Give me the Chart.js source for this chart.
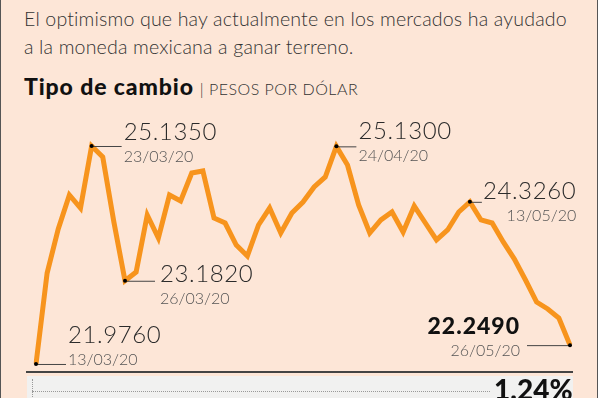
<!DOCTYPE html>
<html lang="es">
<head>
<meta charset="utf-8">
<title>Tipo de cambio</title>
<script src="https://cdn.jsdelivr.net/npm/chart.js@4.4.1/dist/chart.umd.min.js"></script>
<style>
  html, body { margin: 0; padding: 0; }
  body {
    width: 598px; height: 398px; overflow: hidden; position: relative;
    background: #fde6d7; font-family: Lato, 'Open Sans', sans-serif; color: #2b2b2b;
  }
  .frame { position: absolute; left: 0; top: 0; width: 596px; height: 398px;
           border-left: 1px solid #555; border-right: 1px solid #555; }
  .intro { position: absolute; left: 24px; top: 5px; font-size: 19.6px; line-height: 28px;
           font-weight: 300; color: #333; letter-spacing: 0.15px; }
  .title { position: absolute; left: 24px; top: 73px; font-size: 23px; line-height: 26px; }
  .title b { font-weight: 900; color: #111; letter-spacing: 0.9px; }
  .title span { font-size: 16px; font-weight: 300; color: #333; letter-spacing: 0.5px; }
  #wrap { position: absolute; left: 0; top: 0; width: 598px; height: 398px; }
  .ann { position: absolute; white-space: nowrap; line-height: 1; }
  .ann .num { font-size: 24px; font-weight: 300; color: #2b2b2b; letter-spacing: 0.6px; }
  .ann .num.bold { font-weight: 900; color: #111; font-size: 23px; letter-spacing: 1px; }
  .ann .date { font-size: 16px; font-weight: 300; color: #555; margin-top: 5px; }
  .rule { position: absolute; left: 26px; top: 371px; width: 547px; height: 0;
          border-top: 2px solid #444; }
  .box { position: absolute; left: 27px; top: 376px; width: 546px; height: 30px; background: #f1f1f0; }
  .dotv { position: absolute; left: 32px; top: 379px; height: 30px; border-left: 1px dotted #999; }
  .doth { position: absolute; left: 32px; top: 391px; width: 458px; border-top: 1px dotted #999; }
  .pct { position: absolute; left: 494px; top: 375px; font-size: 28px; font-weight: 900; color: #111; line-height: 1; }
</style>
</head>
<body>
<div class="frame"></div>
<div class="intro">El optimismo que hay actualmente en los mercados ha ayudado<br>a la moneda mexicana a ganar terreno.</div>
<div class="title"><b>Tipo de cambio</b> <span>| PESOS POR DÓLAR</span></div>

<div id="wrap"><canvas id="chart" width="598" height="398"></canvas></div>

<div class="rule"></div>
<div class="box"></div>
<div class="dotv"></div>
<div class="doth"></div>
<div class="pct">1.24%</div>

<script>
// ── Data ───────────────────────────────────────
const dates = [
  '13/03/20', '17/03/20', '18/03/20', '19/03/20', '20/03/20', '23/03/20', '24/03/20', '25/03/20',
  '26/03/20', '27/03/20', '30/03/20', '31/03/20', '01/04/20', '02/04/20', '03/04/20', '06/04/20',
  '07/04/20', '08/04/20', '13/04/20', '14/04/20', '15/04/20', '16/04/20', '17/04/20', '20/04/20',
  '21/04/20', '22/04/20', '23/04/20', '24/04/20', '27/04/20', '28/04/20', '29/04/20', '30/04/20',
  '04/05/20', '05/05/20', '06/05/20', '07/05/20', '08/05/20', '11/05/20', '12/05/20', '13/05/20',
  '14/05/20', '15/05/20', '18/05/20', '19/05/20', '20/05/20', '21/05/20', '22/05/20', '25/05/20',
  '26/05/20'
];

const pesos = [
  21.976, 23.294, 23.932, 24.425, 24.236, 25.135, 24.976, 24.034,
  23.182, 23.309, 24.135, 23.802, 24.425, 24.338, 24.744, 24.773,
  24.092, 24.019, 23.700, 23.541, 23.990, 24.236, 23.874, 24.164,
  24.323, 24.541, 24.686, 25.130, 24.860, 24.280, 23.874, 24.063,
  24.178, 23.889, 24.265, 24.019, 23.773, 23.918, 24.178, 24.326,
  24.063, 24.019, 23.744, 23.497, 23.193, 22.874, 22.773, 22.642,
  22.249
];

// labelled points: which date, and its printed value
const markDates  = ['13/03/20', '23/03/20', '26/03/20', '24/04/20', '13/05/20', '26/05/20'];
const markValues = ['21.9760', '25.1350', '23.1820', '25.1300', '24.3260', '22.2490'];

const yMin = 21.8886;
const yMax = 25.5118;

// ── Label placement (leader length, text offsets) ──
const markStyle = {
  '13/03/20': { lead: 30, dx: 32, dy: -42, align: 'left' },
  '23/03/20': { lead: 30, dx: 32, dy: -27, align: 'left' },
  '26/03/20': { lead: 30, dx: 35, dy: -20, align: 'left' },
  '24/04/20': { lead: 20, dx: 22, dy: -28, align: 'left' },
  '13/05/20': { lead: 12, dx: 13, dy: -24, align: 'left', dateRight: true },
  '26/05/20': { lead: -43, dx: -50, dy: -31, align: 'right', bold: true }
};

const leaders = {
  id: 'leaders',
  afterDatasetsDraw(chart) {
    const ctx = chart.ctx;
    const xs = chart.scales.x, ys = chart.scales.y;
    ctx.save();
    markDates.forEach(d => {
      const i = dates.indexOf(d);
      const px = xs.getPixelForValue(i);
      const py = ys.getPixelForValue(pesos[i]);
      const st = markStyle[d];
      ctx.strokeStyle = '#444';
      ctx.lineWidth = 1;
      ctx.beginPath();
      ctx.moveTo(px, py + 0.5);
      ctx.lineTo(px + st.lead, py + 0.5);
      ctx.stroke();
      ctx.fillStyle = '#000';
      ctx.beginPath();
      ctx.arc(px, py, 2, 0, Math.PI * 2);
      ctx.fill();
    });
    ctx.restore();
  }
};

const chart = new Chart(document.getElementById('chart'), {
  type: 'line',
  data: {
    labels: dates,
    datasets: [{
      data: pesos,
      borderColor: '#f7941d',
      borderWidth: 5,
      borderJoinStyle: 'miter',
      borderCapStyle: 'butt',
      pointRadius: 0,
      tension: 0,
      fill: false
    }]
  },
  options: {
    responsive: false,
    animation: false,
    layout: { padding: { left: 36, right: 28, top: 120, bottom: 28 } },
    plugins: { legend: { display: false }, tooltip: { enabled: false } },
    scales: {
      x: { display: false, offset: false },
      y: { display: false, min: yMin, max: yMax }
    }
  },
  plugins: [leaders]
});

// ── HTML labels next to the marked points ──────
markDates.forEach((d, k) => {
  const i  = dates.indexOf(d);
  const px = chart.scales.x.getPixelForValue(i);
  const py = chart.scales.y.getPixelForValue(pesos[i]);
  const st = markStyle[d];
  const el = document.createElement('div');
  el.className = 'ann';
  el.innerHTML = `<div class="num${st.bold ? ' bold' : ''}">${markValues[k]}</div>` +
                 `<div class="date">${d}</div>`;
  el.style.top = (py + st.dy) + 'px';
  if (st.align === 'right') {
    el.style.right = (598 - (px + st.dx)) + 'px';
    el.style.textAlign = 'right';
  } else {
    el.style.left = (px + st.dx) + 'px';
    el.style.textAlign = st.dateRight ? 'right' : 'left';
  }
  document.body.appendChild(el);
});
</script>
</body>
</html>
